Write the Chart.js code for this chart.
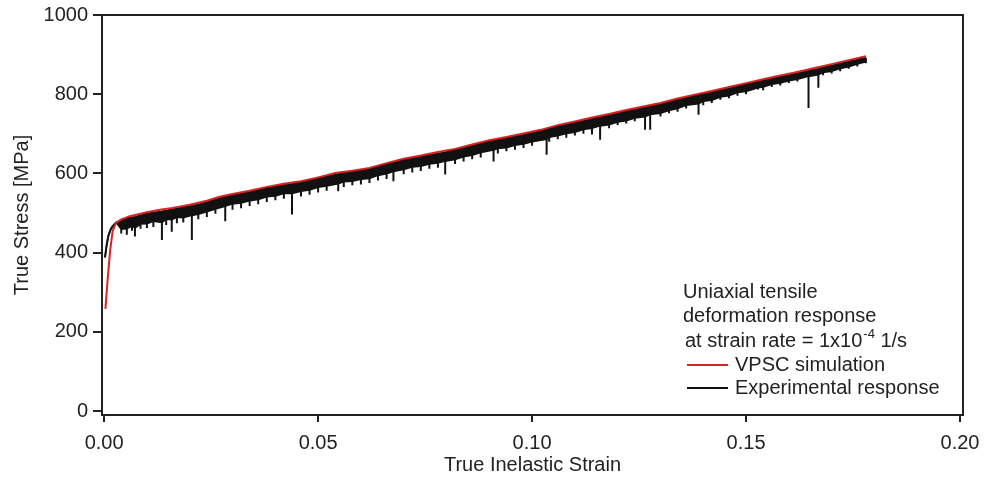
<!DOCTYPE html>
<html>
<head>
<meta charset="utf-8">
<script src="https://cdn.jsdelivr.net/npm/chart.js@4.4.1/dist/chart.umd.min.js"></script>
<style>
  html, body { margin: 0; padding: 0; background: #fff; }
</style>
</head>
<body>
<canvas id="c" width="985" height="481"></canvas>
<script>
// VPSC simulation (red)
const simStrain = [0.0003, 0.0008, 0.0014, 0.002, 0.0028, 0.004, 0.006, 0.008, 0.010, 0.013, 0.016, 0.020, 0.024, 0.027,
  0.030, 0.034, 0.038, 0.042, 0.046, 0.050, 0.054, 0.058, 0.062, 0.066, 0.070, 0.074, 0.078, 0.082, 0.086, 0.090,
  0.094, 0.098, 0.102, 0.106, 0.110, 0.114, 0.118, 0.122, 0.126, 0.130, 0.134, 0.138, 0.142, 0.146, 0.150, 0.154,
  0.158, 0.162, 0.166, 0.170, 0.174, 0.178];
const simStress = [258, 330, 405, 455, 475, 484, 492, 497, 502, 508, 513, 521, 531, 541,
  548, 556, 566, 574, 580, 590, 601, 607, 614, 626, 637, 645, 654, 662, 673, 684,
  692, 701, 710, 722, 731, 741, 750, 760, 769, 778, 789, 799, 808, 818, 828, 838,
  847, 856, 866, 876, 886, 896];

// Experimental response (black): start of the curve
const expStartStrain = [0.0002, 0.0006, 0.001, 0.0015, 0.002, 0.0028];
const expStartStress = [388, 420, 443, 458, 467, 476];

// serrated part: strain, upper edge of the band, lower edge of the band, tip of the stress drop
const expSerrStrain = [0.004, 0.0053, 0.0065, 0.0072, 0.0085, 0.010, 0.0115, 0.0135, 0.0145, 0.0158, 0.017, 0.0185,
  0.0205, 0.022, 0.024, 0.026, 0.0283, 0.030, 0.032, 0.034, 0.036, 0.038, 0.040, 0.042, 0.0439, 0.046, 0.048,
  0.050, 0.052, 0.0547, 0.056, 0.058, 0.060, 0.062, 0.064, 0.066, 0.0676, 0.070, 0.072, 0.074, 0.076, 0.078,
  0.0797, 0.082, 0.084, 0.086, 0.088, 0.091, 0.092, 0.094, 0.096, 0.098, 0.100, 0.1034, 0.104, 0.106, 0.108,
  0.110, 0.112, 0.114, 0.1159, 0.118, 0.120, 0.122, 0.124, 0.1264, 0.1276, 0.130, 0.132, 0.134, 0.136, 0.1389,
  0.140, 0.142, 0.144, 0.146, 0.148, 0.150, 0.1528, 0.154, 0.156, 0.158, 0.160, 0.162, 0.1646, 0.1669, 0.168,
  0.170, 0.172, 0.174, 0.176, 0.178];
const expSerrTop = [481, 486, 489, 490, 494, 499, 501, 504, 506, 509, 511, 514,
  518, 521, 527, 534, 541, 545, 549, 553, 558, 563, 567, 571, 573, 577, 582,
  587, 592, 598, 601, 604, 607, 611, 617, 623, 627, 634, 638, 642, 646, 650,
  653, 659, 664, 670, 675, 683, 685, 689, 693, 698, 702, 710, 713, 719, 723,
  728, 733, 738, 742, 747, 752, 757, 761, 767, 770, 775, 780, 786, 791, 798,
  800, 805, 810, 815, 820, 825, 832, 835, 840, 844, 848, 853, 859, 864, 867,
  872, 877, 882, 887, 892];
const expSerrLow = [459, 460, 467, 462, 472, 473, 479, 476, 484, 483, 489, 488,
  494, 497, 503, 510, 517, 523, 525, 531, 534, 541, 543, 549, 549, 555, 558,
  565, 568, 574, 579, 580, 585, 587, 595, 599, 605, 610, 616, 618, 624, 626,
  631, 635, 642, 646, 653, 659, 663, 665, 671, 674, 680, 686, 691, 695, 701,
  704, 711, 714, 720, 723, 730, 733, 740, 743, 749, 752, 759, 764, 772, 776,
  782, 785, 793, 796, 804, 807, 816, 818, 825, 828, 834, 838, 845, 849, 855,
  858, 865, 869, 876, 882];
const expSerrBottom = [448, 445, 455, 441, 460, 462, 465, 432, 470, 453, 474, 476,
  432, 484, 490, 498, 479, 508, 512, 518, 522, 528, 532, 536, 496, 542, 546,
  552, 556, 555, 566, 570, 572, 576, 582, 586, 580, 598, 602, 606, 612, 614,
  597, 624, 630, 636, 640, 630, 650, 656, 660, 664, 670, 647, 680, 686, 690,
  696, 700, 698, 685, 714, 722, 726, 732, 710, 710, 744, 752, 756, 764, 748,
  772, 778, 786, 790, 796, 800, 812, 810, 818, 822, 828, 832, 765, 816, 848,
  852, 858, 864, 870, 878];

const xTicks = [0, 0.05, 0.10, 0.15, 0.20];
const yTicks = [0, 200, 400, 600, 800, 1000];

const noteLines = ['Uniaxial tensile', 'deformation response'];
const rateText = ['at strain rate = 1x10', '-4', ' 1/s'];
const legendLabels = ['VPSC simulation', 'Experimental response'];

const FONT = '"Liberation Sans", Arial, Helvetica, sans-serif';
const INK = '#222';
const RED = '#d92323';
const BLACK = '#111';

const simPoints = simStrain.map((s, i) => ({ x: s, y: simStress[i] }));
const startPoints = expStartStrain.map((s, i) => ({ x: s, y: expStartStress[i] }));
const topPoints = startPoints.concat(expSerrStrain.map((s, i) => ({ x: s, y: expSerrTop[i] })));
const lowPoints = startPoints.concat(expSerrStrain.map((s, i) => ({ x: s, y: expSerrLow[i] })));
// each stress drop as a short vertical stroke
const dropPoints = [];
expSerrStrain.forEach((s, i) => {
  dropPoints.push({ x: s, y: expSerrTop[i] });
  dropPoints.push({ x: s, y: expSerrBottom[i] });
  dropPoints.push({ x: s, y: null });
});

// frame + text box in the lower right corner
const notePlugin = {
  id: 'note',
  afterDraw(chart) {
    const ctx = chart.ctx;
    const a = chart.chartArea;
    ctx.save();
    ctx.strokeStyle = INK;
    ctx.lineWidth = 2;
    ctx.strokeRect(a.left, a.top, a.right - a.left, a.bottom - a.top);

    const x0 = a.right - 280;
    ctx.fillStyle = INK;
    ctx.textBaseline = 'middle';
    ctx.textAlign = 'left';
    ctx.font = '20px ' + FONT;
    ctx.fillText(noteLines[0], x0, a.bottom - 123);
    ctx.fillText(noteLines[1], x0, a.bottom - 99);

    let x = x0 + 2;
    ctx.fillText(rateText[0], x, a.bottom - 74);
    x += ctx.measureText(rateText[0]).width + 1;
    ctx.font = '13px ' + FONT;
    ctx.fillText(rateText[1], x, a.bottom - 81);
    x += ctx.measureText(rateText[1]).width;
    ctx.font = '20px ' + FONT;
    ctx.fillText(rateText[2], x, a.bottom - 74);

    const ds = chart.data.datasets;
    [a.bottom - 50, a.bottom - 27].forEach((y, i) => {
      ctx.strokeStyle = ds[i].borderColor;
      ctx.lineWidth = 2;
      ctx.beginPath();
      ctx.moveTo(x0 + 4, y);
      ctx.lineTo(x0 + 45, y);
      ctx.stroke();
      ctx.fillText(legendLabels[i], x0 + 52, y);
    });
    ctx.restore();
  }
};

new Chart(document.getElementById('c'), {
  type: 'scatter',
  data: {
    datasets: [
      {
        label: legendLabels[0],
        data: simPoints,
        showLine: true,
        borderColor: RED,
        borderWidth: 2,
        pointRadius: 0,
        order: 0
      },
      {
        label: legendLabels[1],
        data: topPoints,
        showLine: true,
        borderColor: BLACK,
        backgroundColor: BLACK,
        borderWidth: 2,
        pointRadius: 0,
        fill: '+1',
        order: 2
      },
      {
        label: 'band',
        data: lowPoints,
        showLine: true,
        borderColor: BLACK,
        borderWidth: 1.5,
        pointRadius: 0,
        order: 2
      },
      {
        label: 'drops',
        data: dropPoints,
        showLine: true,
        spanGaps: false,
        borderColor: BLACK,
        borderWidth: 2,
        pointRadius: 0,
        order: 1
      }
    ]
  },
  options: {
    responsive: false,
    animation: false,
    devicePixelRatio: 1,
    layout: { padding: { left: 0, right: 22, top: 15, bottom: 0 } },
    plugins: {
      legend: { display: false },
      tooltip: { enabled: false }
    },
    scales: {
      x: {
        type: 'linear',
        min: -0.0005,
        max: 0.2007,
        afterBuildTicks: (s) => { s.ticks = xTicks.map(v => ({ value: v })); },
        afterFit: (s) => { s.height = 66; s.paddingLeft = 0; s.paddingRight = 0; },
        ticks: {
          color: INK,
          font: { family: FONT, size: 20 },
          padding: 9,
          maxRotation: 0,
          callback: (v) => v.toFixed(2)
        },
        grid: { drawOnChartArea: false, drawTicks: true, tickLength: 7, color: INK, lineWidth: 2 },
        border: { display: true, color: INK, width: 2 },
        title: { display: true, text: 'True Inelastic Strain', color: INK, font: { family: FONT, size: 20 }, padding: { top: 0, bottom: 4 } }
      },
      y: {
        type: 'linear',
        min: -10,
        max: 1000,
        afterBuildTicks: (s) => { s.ticks = yTicks.map(v => ({ value: v })); },
        afterFit: (s) => { s.width = 102; s.paddingTop = 0; s.paddingBottom = 0; },
        ticks: {
          color: INK,
          font: { family: FONT, size: 20 },
          padding: 5,
          callback: (v) => String(v)
        },
        grid: { drawOnChartArea: false, drawTicks: true, tickLength: 9, color: INK, lineWidth: 2 },
        border: { display: true, color: INK, width: 2 },
        title: { display: true, text: 'True Stress [MPa]', color: INK, font: { family: FONT, size: 20 }, padding: { top: 10, bottom: 0 } }
      }
    }
  },
  plugins: [notePlugin]
});
</script>
</body>
</html>
